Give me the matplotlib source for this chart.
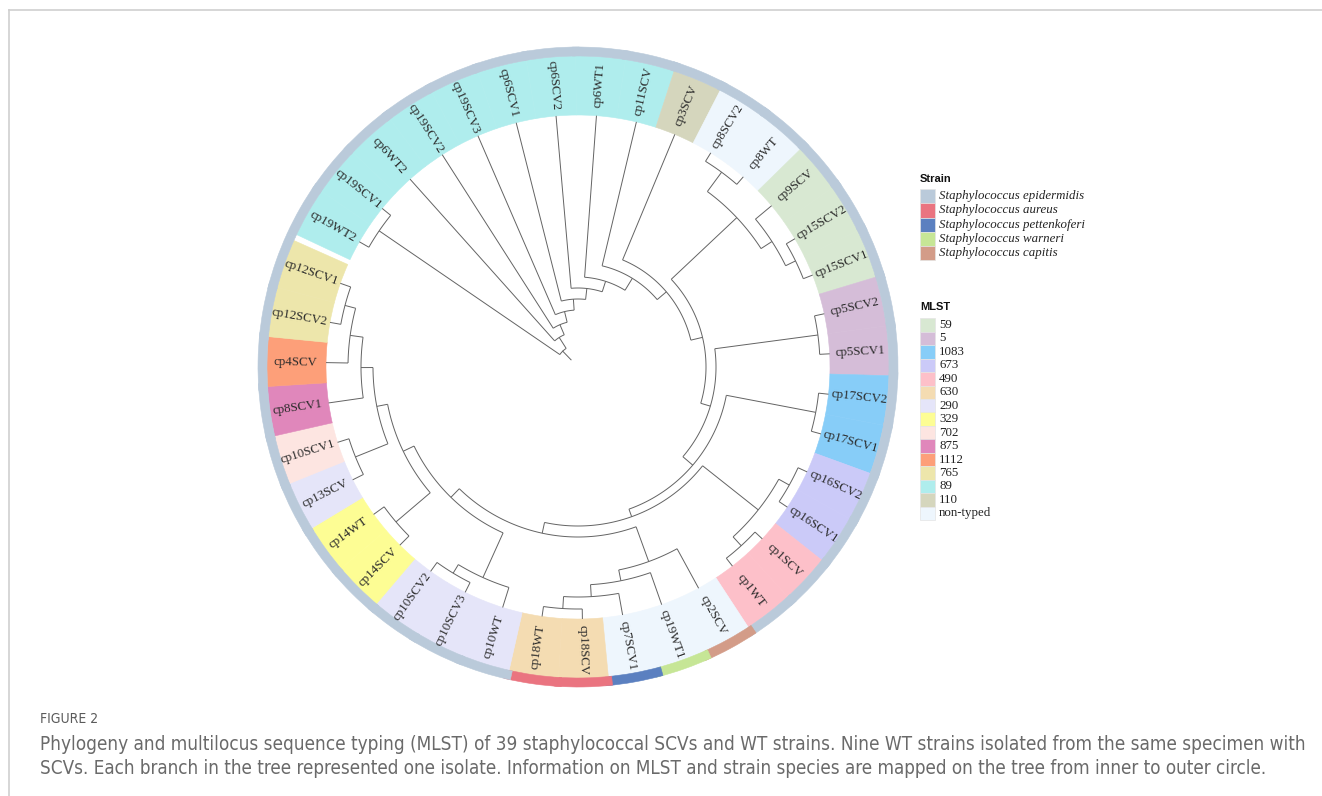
import matplotlib
matplotlib.use("Agg")
import matplotlib.pyplot as plt
from matplotlib import font_manager
from matplotlib.patches import Wedge, Rectangle
import numpy as np

# Tree in Newick form; branch lengths are in the drawing's radial units
# (all tips end at the same depth, as in the cladogram).
newick = ("((cp19WT2:11,cp19SCV1:11):219,(cp6WT2:217,(cp19SCV2:206,(cp19SCV3:195,"
          "(cp6SCV1:184,(cp6SCV2:173,(cp6WT1:162,(cp11SCV:148,(cp3SCV:136,"
          "(((cp8SCV2:10,cp8WT:10):24,(cp9SCV:21,(cp15SCV2:10,cp15SCV1:10):11):13):90,"
          "((cp5SCV2:10,cp5SCV1:10):104,((cp17SCV2:10,cp17SCV1:10):91,"
          "(((cp16SCV2:10,cp16SCV1:10):12,(cp1SCV:10,cp1WT:10):12):71,"
          "((cp2SCV:45,(cp19WT1:34,(cp7SCV1:22,(cp18SCV:10,cp18WT:10):12):12):11):37,"
          "((cp10WT:21,(cp10SCV3:11,cp10SCV2:11):10):49,((cp14SCV:13,cp14WT:13):45,"
          "((cp13SCV:12,cp10SCV1:12):35,(cp8SCV1:35,(cp4SCV:22,(cp12SCV2:11,cp12SCV1:11):11):13)"
          ":12):11):12):12):11):8):13):10):12):12):14):11):11):11):11):11):13):12;")

# MLST type of each isolate
mlst_of = {
    'cp19WT2': '89', 'cp19SCV1': '89', 'cp6WT2': '89', 'cp19SCV2': '89', 'cp19SCV3': '89',
    'cp6SCV1': '89', 'cp6SCV2': '89', 'cp6WT1': '89', 'cp11SCV': '89', 'cp3SCV': '110',
    'cp8SCV2': 'non-typed', 'cp8WT': 'non-typed', 'cp9SCV': '59', 'cp15SCV2': '59',
    'cp15SCV1': '59', 'cp5SCV2': '5', 'cp5SCV1': '5', 'cp17SCV2': '1083', 'cp17SCV1': '1083',
    'cp16SCV2': '673', 'cp16SCV1': '673', 'cp1SCV': '490', 'cp1WT': '490',
    'cp2SCV': 'non-typed', 'cp19WT1': 'non-typed', 'cp7SCV1': 'non-typed',
    'cp18SCV': '630', 'cp18WT': '630', 'cp10WT': '290', 'cp10SCV3': '290', 'cp10SCV2': '290',
    'cp14SCV': '329', 'cp14WT': '329', 'cp13SCV': '290', 'cp10SCV1': '702', 'cp8SCV1': '875',
    'cp4SCV': '1112', 'cp12SCV2': '765', 'cp12SCV1': '765',
}

# species of the isolates that are not S. epidermidis
strain_of = {
    'cp18SCV': 'Staphylococcus aureus', 'cp18WT': 'Staphylococcus aureus',
    'cp7SCV1': 'Staphylococcus pettenkoferi', 'cp19WT1': 'Staphylococcus warneri',
    'cp2SCV': 'Staphylococcus capitis',
}

strains = ['Staphylococcus epidermidis', 'Staphylococcus aureus', 'Staphylococcus pettenkoferi',
           'Staphylococcus warneri', 'Staphylococcus capitis']
strain_colors = ['#bacada', '#ea7480', '#5b80c0', '#c6e696', '#d39c88']

mlst_types = ['59', '5', '1083', '673', '490', '630', '290', '329', '702', '875',
              '1112', '765', '89', '110', 'non-typed']
mlst_colors = ['#d8e8d2', '#d5bdd8', '#87cdf8', '#cbcaf8', '#fdc0c9', '#f4dcb2', '#e5e5f9',
               '#fdfd94', '#fde5e1', '#e087bb', '#fd9f79', '#ede6ab', '#afeded', '#d5d6bd',
               '#eef6fd']

caption_title = 'FIGURE 2'
caption_lines = [
    'Phylogeny and multilocus sequence typing (MLST) of 39 staphylococcal SCVs and WT strains. '
    'Nine WT strains isolated from the same specimen with',
    'SCVs. Each branch in the tree represented one isolate. Information on MLST and strain '
    'species are mapped on the tree from inner to outer circle.',
]


def parse_newick(s):
    pos = 0

    def node():
        nonlocal pos
        kids = []
        if s[pos] == '(':
            pos += 1
            while True:
                kids.append(node())
                if s[pos] == ',':
                    pos += 1
                else:
                    pos += 1  # ')'
                    break
        start = pos
        while s[pos] not in ':,);':
            pos += 1
        name = s[start:pos]
        length = 0.0
        if s[pos] == ':':
            pos += 1
            start = pos
            while s[pos] not in ',);':
                pos += 1
            length = float(s[start:pos])
        return {'name': name, 'len': length, 'ch': kids}

    return node()


W, H = 1322, 796
CX, CY = 578, H - 367      # circle centre (pixels, y up)
R0 = 10                    # where the root stub starts
START, STEP = 150.2, 9.2   # angle of first tip, spacing (deg, clockwise)
R_TIP, R_MLST, R_OUT = 252, 311, 320

tree = parse_newick(newick)
leaves = []


def layout(n, r_parent):
    n['r'] = r_parent + n['len']
    if not n['ch']:
        n['th'] = START - STEP * len(leaves)
        leaves.append(n)
    else:
        for c in n['ch']:
            layout(c, n['r'])
        n['th'] = (n['ch'][0]['th'] + n['ch'][-1]['th']) / 2


layout(tree, R0)


def pol(r, th):
    t = np.deg2rad(th)
    return CX + r * np.cos(t), CY + r * np.sin(t)


fig = plt.figure(figsize=(W / 100, H / 100), dpi=100)
ax = fig.add_axes([0, 0, 1, 1])
ax.set_xlim(0, W)
ax.set_ylim(0, H)
ax.axis('off')

# rings: MLST (inner) and strain (outer)
mcol = dict(zip(mlst_types, mlst_colors))
scol = dict(zip(strains, strain_colors))
for lf in leaves:
    c = mcol[mlst_of[lf['name']]]
    ax.add_patch(Wedge((CX, CY), R_MLST, lf['th'] - STEP / 2, lf['th'] + STEP / 2,
                       width=R_MLST - R_TIP, facecolor=c, edgecolor=c, lw=0.4))
    c = scol[strain_of.get(lf['name'], strains[0])]
    ax.add_patch(Wedge((CX, CY), R_OUT, lf['th'] - STEP / 2 - 0.6, lf['th'] + STEP / 2 + 0.6,
                       width=R_OUT - R_MLST, facecolor=c, edgecolor=c, lw=0.4))

# tree branches
LC, LW = '#636363', 0.7


def draw(n):
    if not n['ch']:
        return
    a1, a2 = n['ch'][0]['th'], n['ch'][-1]['th']
    t = np.linspace(a1, a2, 80)
    x, y = pol(n['r'], t)
    ax.plot(x, y, color=LC, lw=LW, solid_capstyle='butt')
    for c in n['ch']:
        x, y = pol(np.array([n['r'], c['r']]), c['th'])
        ax.plot(x, y, color=LC, lw=LW, solid_capstyle='butt')
        draw(c)


draw(tree)
x, y = pol(np.array([R0, tree['r']]), tree['th'])
ax.plot(x, y, color=LC, lw=LW)

# tip labels
for lf in leaves:
    th = ((lf['th'] + 180) % 360) - 180
    rot = th - 180 if th > 90 else (th + 180 if th < -90 else th)
    x, y = pol(283, lf['th'])
    ax.text(x, y, lf['name'], rotation=rot, rotation_mode='anchor', ha='center', va='center',
            fontsize=9.3, family=['Liberation Serif', 'DejaVu Serif'], color='#2a2a2a')


# legends
def legend(title, names, colors, y_title, y0, step, italic):
    ax.text(920, H - y_title, title, fontsize=8, fontweight='bold',
            family=['Liberation Sans', 'DejaVu Sans'], va='center', ha='left', color='#111')
    for i, (nm, c) in enumerate(zip(names, colors)):
        top = y0 + i * step
        ax.add_patch(Rectangle((920, H - top - step), 15, step, facecolor=c,
                               edgecolor='#e4e4e4', lw=0.5))
        ax.text(939, H - top - step / 2, nm, fontsize=9.3, va='center', ha='left',
                style='italic' if italic else 'normal', color='#222',
                family=['Liberation Serif', 'DejaVu Serif'])


legend('Strain', strains, strain_colors, 179, 189.3, 14.13, True)
legend('MLST', mlst_types, mlst_colors, 307.5, 318.3, 13.45, False)

# frame
ax.plot([9, W], [H - 10, H - 10], color='#cfcfcf', lw=1.2)
ax.plot([9, 9], [H - 10, 0], color='#cfcfcf', lw=1.2)

# caption: a narrow sans, each line fitted to the width it has in the figure
names = {f.name for f in font_manager.fontManager.ttflist}
if 'Liberation Sans Narrow' in names:
    cap_kw = dict(family=['Liberation Sans Narrow', 'DejaVu Sans'])
else:
    cap_kw = dict(family=['DejaVu Sans'], stretch='condensed')

fig.canvas.draw()
rend = fig.canvas.get_renderer()
items = [(caption_title, 719, 58, '#5a5a5a')] + \
        [(ln, yy, tw, '#6a6a6a') for ln, yy, tw in zip(caption_lines, [744, 769], [1262, 1232])]
for ln, yy, target, col in items:
    t = fig.text(40 / W, 1 - yy / H, ln, fontsize=12, color=col, va='center', **cap_kw)
    wpx = t.get_window_extent(rend).width
    t.set_fontsize(12 * target / wpx)

fig.savefig('out.png', dpi=100)
